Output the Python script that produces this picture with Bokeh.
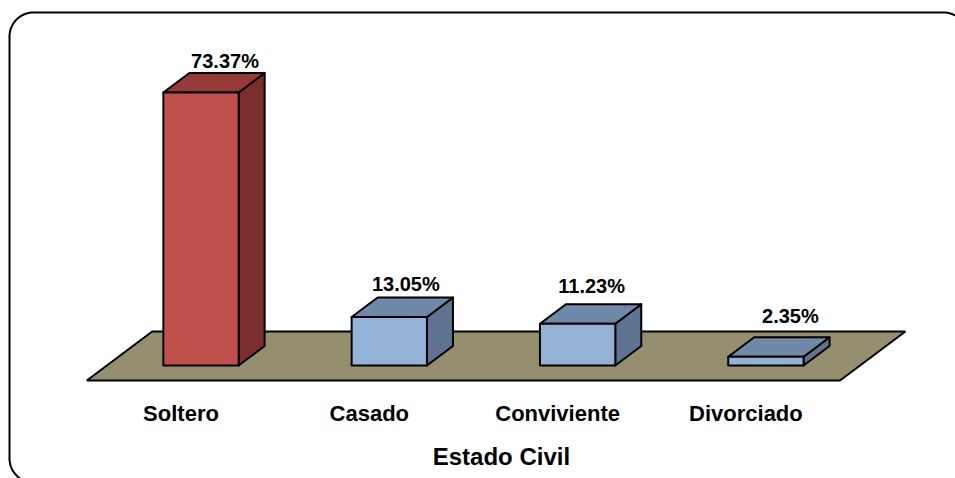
import numpy as np
from bokeh.plotting import figure
from bokeh.models import Range1d, ColumnDataSource
from bokeh.core.properties import value
from bokeh.embed import file_html
from bokeh.resources import INLINE

# ---- data ----
categories = ["Soltero", "Casado", "Conviviente", "Divorciado"]
percentages = [73.37, 13.05, 11.23, 2.35]
value_labels = ["73.37%", "13.05%", "11.23%", "2.35%"]
axis_title = "Estado Civil"

# ---- styles / layout (pixels) ----
W, H = 955, 478
PX_PER_CAT = 188.3          # horizontal px per category
PX_PER_PCT = 3.721          # vertical px per percent
ORIGIN_X = 200.5            # canvas x of first category centre
ORIGIN_Y = 365.0            # canvas y (from top) of 0 %
HALF_W = 0.2                # bar half width in category units
DEPTH_PX = (26.0, 19.5)     # bar depth offset (right, up)
FLOOR_FRONT_PX, FLOOR_BACK_PX = 15.0, 34.0
SLOPE = 26.0 / 19.5
FONT = "Liberation Sans"
front_colors = ["#C0504D", "#95B3D7", "#95B3D7", "#95B3D7"]
top_colors = ["#943A37", "#7189A9", "#7189A9", "#7189A9"]
side_colors = ["#7B2E2C", "#5D7391", "#5D7391", "#5D7391"]
floor_color = "#958E6F"
label_dx_px = [24, 16.5, 14, 24.5]
label_dy_px = [31, 33, 38, 41]

x0 = -ORIGIN_X / PX_PER_CAT
y0 = -(H - ORIGIN_Y) / PX_PER_PCT
p = figure(width=W, height=H, output_backend="svg", toolbar_location=None,
           x_range=Range1d(x0, x0 + W / PX_PER_CAT),
           y_range=Range1d(y0, y0 + H / PX_PER_PCT),
           min_border=0, outline_line_color=None)
p.axis.visible = False
p.grid.visible = False
p.background_fill_color = "white"
p.border_fill_color = "white"

ddx = DEPTH_PX[0] / PX_PER_CAT
ddy = DEPTH_PX[1] / PX_PER_PCT

def cx(px):  # canvas px -> data x
    return x0 + px / PX_PER_CAT

def cy(py):  # canvas px -> data y
    return (ORIGIN_Y - py) / PX_PER_PCT

# ---- rounded border ----
L, T, R, B, r = 9, 12, 967, 482, 24
pts = []
for (ccx, ccy, a0) in [(R - r, T + r, -90), (R - r, B - r, 0), (L + r, B - r, 90), (L + r, T + r, 180)]:
    ang = np.radians(np.linspace(a0, a0 + 90, 20))
    pts += [(ccx + r * np.cos(a), ccy + r * np.sin(a)) for a in ang]
pts.append(pts[0])
p.line([cx(a) for a, b in pts], [cy(b) for a, b in pts], line_color="black", line_width=2)

# ---- floor ----
n = len(categories)
fl, fr = -0.5, n - 0.5
yf = -FLOOR_FRONT_PX / PX_PER_PCT
yb = FLOOR_BACK_PX / PX_PER_PCT
sf = FLOOR_FRONT_PX * SLOPE / PX_PER_CAT
sb = FLOOR_BACK_PX * SLOPE / PX_PER_CAT
p.patch([fl - sf, fr - sf, fr + sb, fl + sb], [yf, yf, yb, yb],
        fill_color=floor_color, line_color="black", line_width=2)

# ---- bars ----
xs = np.arange(n, dtype=float)
vals = np.array(percentages)
side_x, side_y, top_x, top_y = [], [], [], []
for i, v in zip(xs, vals):
    rgt, lft = i + HALF_W, i - HALF_W
    side_x.append([rgt, rgt + ddx, rgt + ddx, rgt])
    side_y.append([0, ddy, v + ddy, v])
    top_x.append([lft, rgt, rgt + ddx, lft + ddx])
    top_y.append([v, v, v + ddy, v + ddy])
p.patches(side_x, side_y, fill_color=side_colors, line_color="black", line_width=2, line_join="round")
p.patches(top_x, top_y, fill_color=top_colors, line_color="black", line_width=2, line_join="round")
src = ColumnDataSource(dict(x=xs, top=vals, c=front_colors))
p.vbar(x="x", top="top", bottom=0, width=2 * HALF_W, source=src,
       fill_color="c", line_color="black", line_width=2, line_join="round")

# ---- value labels ----
lab = ColumnDataSource(dict(
    x=xs + np.array(label_dx_px) / PX_PER_CAT,
    y=vals + np.array(label_dy_px) / PX_PER_PCT,
    t=value_labels))
p.text(x="x", y="y", text="t", source=lab, text_font=value(FONT), text_font_style="bold",
       text_font_size="20px", text_align="center", text_baseline="alphabetic", text_color="black")

# ---- category labels ----
cat = ColumnDataSource(dict(x=xs - sf, y=[cy(413)] * n, t=categories))
p.text(x="x", y="y", text="t", source=cat, text_font=value(FONT), text_font_style="bold",
       text_font_size="22px", text_align="center", text_baseline="middle", text_color="black")

# ---- axis title ----
p.text(x=[(n - 1) / 2 + 18 / PX_PER_CAT], y=[cy(456)], text=[axis_title], text_font=value(FONT),
       text_font_style="bold", text_font_size="24px", text_align="center",
       text_baseline="middle", text_color="black")

open("out.html", "w").write(file_html(p, INLINE))
